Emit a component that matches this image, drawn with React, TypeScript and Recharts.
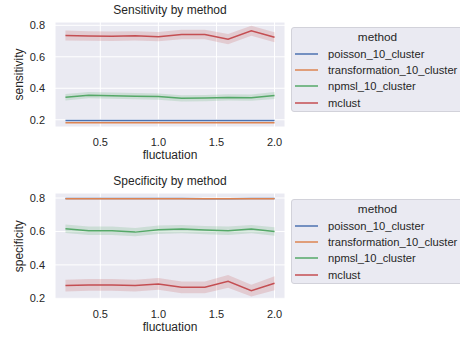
import {
  ComposedChart,
  Line,
  Area,
  XAxis,
  YAxis,
  CartesianGrid,
  Legend,
} from "recharts";

const FLUCTUATION = [0.2, 0.4, 0.6, 0.8, 1.0, 1.2, 1.4, 1.6, 1.8, 2.0];

const SENS_POISSON = [0.195, 0.195, 0.195, 0.195, 0.195, 0.195, 0.195, 0.195, 0.195, 0.195];
const SENS_TRANSFORMATION = [0.181, 0.181, 0.181, 0.181, 0.181, 0.181, 0.181, 0.181, 0.181, 0.181];
const SENS_NPMSL = [0.343, 0.356, 0.353, 0.35, 0.347, 0.336, 0.338, 0.342, 0.34, 0.354];
const SENS_NPMSL_CI = [0.02, 0.02, 0.02, 0.02, 0.02, 0.02, 0.02, 0.02, 0.02, 0.022];
const SENS_MCLUST = [0.735, 0.732, 0.731, 0.733, 0.728, 0.742, 0.742, 0.712, 0.765, 0.724];
const SENS_MCLUST_CI = [0.032, 0.03, 0.03, 0.03, 0.03, 0.03, 0.03, 0.032, 0.032, 0.032];

const SPEC_POISSON = [0.797, 0.797, 0.797, 0.797, 0.797, 0.797, 0.796, 0.795, 0.797, 0.797];
const SPEC_TRANSFORMATION = [0.796, 0.796, 0.796, 0.796, 0.796, 0.796, 0.796, 0.796, 0.796, 0.796];
const SPEC_NPMSL = [0.616, 0.604, 0.604, 0.596, 0.61, 0.614, 0.608, 0.604, 0.614, 0.6];
const SPEC_NPMSL_CI = [0.025, 0.025, 0.025, 0.025, 0.025, 0.025, 0.025, 0.025, 0.025, 0.025];
const SPEC_MCLUST = [0.276, 0.28, 0.28, 0.276, 0.286, 0.266, 0.266, 0.302, 0.246, 0.29];
const SPEC_MCLUST_CI = [0.035, 0.035, 0.035, 0.035, 0.035, 0.035, 0.035, 0.038, 0.035, 0.042];

const METHODS = ["poisson_10_cluster", "transformation_10_cluster", "npmsl_10_cluster", "mclust"];
const COLORS = ["#4c72b0", "#dd8452", "#55a868", "#c44e52"];

const X_TICKS = [0.5, 1.0, 1.5, 2.0];
const Y_TICKS = [0.2, 0.4, 0.6, 0.8];

const FONT = '"Liberation Sans", Arial, sans-serif';
const TEXT = "#262626";

function buildRows(
  poisson: number[],
  transformation: number[],
  npmsl: number[],
  npmslCi: number[],
  mclust: number[],
  mclustCi: number[]
) {
  return FLUCTUATION.map((x, i) => ({
    x,
    poisson: poisson[i],
    transformation: transformation[i],
    npmsl: npmsl[i],
    npmslBand: [npmsl[i] - npmslCi[i], npmsl[i] + npmslCi[i]],
    mclust: mclust[i],
    mclustBand: [mclust[i] - mclustCi[i], mclust[i] + mclustCi[i]],
  }));
}

const sensRows = buildRows(SENS_POISSON, SENS_TRANSFORMATION, SENS_NPMSL, SENS_NPMSL_CI, SENS_MCLUST, SENS_MCLUST_CI);
const specRows = buildRows(SPEC_POISSON, SPEC_TRANSFORMATION, SPEC_NPMSL, SPEC_NPMSL_CI, SPEC_MCLUST, SPEC_MCLUST_CI);

function MethodLegend() {
  return (
    <div
      style={{
        position: "relative",
        width: 173,
        height: 85,
        boxSizing: "border-box",
        background: "#eaeaf2",
        border: "1px solid #d2d2da",
        borderRadius: 3,
        fontFamily: FONT,
        fontSize: 11.2,
        color: TEXT,
      }}
    >
      <div style={{ position: "absolute", left: 0, right: 0, top: 2, textAlign: "center", lineHeight: "14px", fontSize: 11.8 }}>
        method
      </div>
      {METHODS.map((m, i) => (
        <div key={m} style={{ position: "absolute", left: 3, top: 18 + Math.round(i * 16.2), height: 16, display: "flex", alignItems: "center" }}>
          <svg width={23} height={4} style={{ display: "block" }}>
            <line x1={0} x2={23} y1={2} y2={2} stroke={COLORS[i]} strokeWidth={1.5} />
          </svg>
          <span style={{ marginLeft: 10, whiteSpace: "nowrap" }}>{m}</span>
        </div>
      ))}
    </div>
  );
}

function Panel({
  rows,
  title,
  yLabel,
  domain,
  height,
  top,
  legendTop,
}: {
  rows: any[];
  title: string;
  yLabel: string;
  domain: [number, number];
  height: number;
  top: number;
  legendTop: number;
}) {
  const keys = ["poisson", "transformation", "npmsl", "mclust"];
  return (
    <div style={{ position: "absolute", left: 0, top, width: 460, height }}>
      <div
        style={{
          position: "absolute",
          left: 55,
          width: 230,
          top: top === 0 ? 3 : 4,
          textAlign: "center",
          fontFamily: FONT,
          fontSize: 12,
          color: TEXT,
          lineHeight: "15px",
        }}
      >
        {title}
      </div>
      <ComposedChart
        width={460}
        height={height}
        data={rows}
        margin={{ top: top === 0 ? 22 : 23, right: 175, bottom: height - (top === 0 ? 127 : 129.5) - 20, left: 0 }}
      >
        <CartesianGrid fill="#eaeaf2" fillOpacity={1} stroke="#ffffff" strokeWidth={1} />
        <XAxis
          dataKey="x"
          type="number"
          domain={[0.11, 2.09]}
          ticks={X_TICKS}
          tickFormatter={(v: number) => v.toFixed(1)}
          axisLine={false}
          tickLine={false}
          tickMargin={5}
          height={20}
          tick={{ fill: TEXT, fontSize: 11, fontFamily: FONT }}
          label={{ value: "fluctuation", position: "bottom", offset: 3, fill: TEXT, fontSize: 12, fontFamily: FONT }}
        />
        <YAxis
          type="number"
          domain={domain}
          ticks={Y_TICKS}
          tickFormatter={(v: number) => v.toFixed(1)}
          axisLine={false}
          tickLine={false}
          tickMargin={4}
          width={55}
          allowDataOverflow
          tick={{ fill: TEXT, fontSize: 11, fontFamily: FONT }}
          label={{
            value: yLabel,
            angle: -90,
            position: "insideLeft",
            offset: 19,
            fill: TEXT,
            fontSize: 12,
            fontFamily: FONT,
            style: { textAnchor: "middle" },
          }}
        />
        <Area dataKey="npmslBand" type="linear" stroke="none" fill={COLORS[2]} fillOpacity={0.2} isAnimationActive={false} />
        <Area dataKey="mclustBand" type="linear" stroke="none" fill={COLORS[3]} fillOpacity={0.2} isAnimationActive={false} />
        {keys.map((k, i) => (
          <Line
            key={k}
            dataKey={k}
            type="linear"
            stroke={COLORS[i]}
            strokeWidth={1.5}
            dot={false}
            activeDot={false}
            isAnimationActive={false}
          />
        ))}
        <Legend
          layout="vertical"
          align="center"
          verticalAlign="middle"
          content={() => <MethodLegend />}
          wrapperStyle={{ left: 291, top: legendTop, width: 173, height: 85 }}
        />
      </ComposedChart>
    </div>
  );
}

export default function App() {
  return (
    <div
      style={{
        position: "absolute",
        left: 0,
        top: 0,
        width: 460,
        height: 339,
        overflow: "hidden",
        background: "#ffffff",
      }}
    >
      <Panel rows={sensRows} title="Sensitivity by method" yLabel="sensitivity" domain={[0.154, 0.821]} height={170} top={0} legendTop={27} />
      <Panel rows={specRows} title="Specificity by method" yLabel="specificity" domain={[0.193, 0.83]} height={169} top={170} legendTop={29} />
    </div>
  );
}
